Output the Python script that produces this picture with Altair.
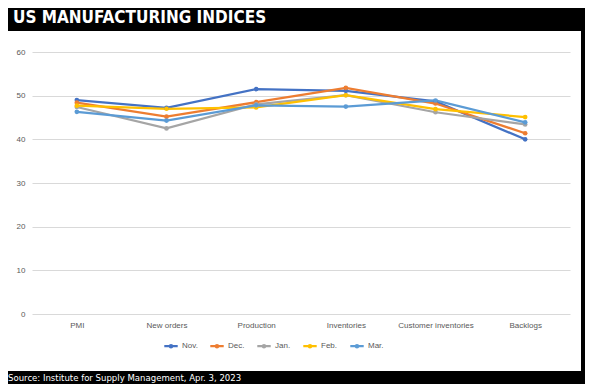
import altair as alt
import pandas as pd

categories = ["PMI", "New orders", "Production", "Inventories", "Customer inventories", "Backlogs"]
months = ["Nov.", "Dec.", "Jan.", "Feb.", "Mar."]
nov = [49.0, 47.2, 51.5, 51.1, 48.7, 40.0]
dec = [48.4, 45.2, 48.5, 51.8, 48.2, 41.4]
jan = [47.4, 42.5, 48.0, 50.1, 46.2, 43.4]
feb = [47.7, 47.0, 47.3, 50.1, 46.9, 45.1]
mar = [46.3, 44.3, 47.8, 47.5, 48.9, 43.9]
colors = ["#4472C4", "#ED7D31", "#A5A5A5", "#FFC000", "#5B9BD5"]
y_ticks = [0, 10, 20, 30, 40, 50, 60]

title_text = "US MANUFACTURING INDICES"
source_text = "Source: Institute for Supply Management, Apr. 3, 2023"

rows = []
for m, vals in zip(months, [nov, dec, jan, feb, mar]):
    for c, v in zip(categories, vals):
        rows.append({"category": c, "month": m, "value": v})
df = pd.DataFrame(rows)

W, H = 538, 262

one = pd.DataFrame({"a": [0]})
top_band = alt.Chart(one).mark_rect(color="black", clip=False).encode(
    x=alt.value(-40), x2=alt.value(570), y=alt.value(-60), y2=alt.value(-21)
)
bottom_band = alt.Chart(one).mark_rect(color="black", clip=False).encode(
    x=alt.value(-40), x2=alt.value(570), y=alt.value(319), y2=alt.value(360)
)
right_band = alt.Chart(one).mark_rect(color="black", clip=False).encode(
    x=alt.value(549), x2=alt.value(570), y=alt.value(-60), y2=alt.value(360)
)

legend_path = "M-1,0L1,0M-0.17,0a0.17,0.17 0 1,0 0.34,0a0.17,0.17 0 1,0 -0.34,0"

lines = alt.Chart(df).mark_line(
    strokeWidth=2.25,
    point=alt.OverlayMarkDef(filled=True, size=22),
).encode(
    x=alt.X("category:N", sort=categories, scale=alt.Scale(type="point", padding=0.5),
            axis=alt.Axis(title=None, labelAngle=0, domain=False, ticks=False, grid=False,
                          labelFont="Liberation Sans", labelFontSize=8, labelColor="#595959",
                          labelPadding=7)),
    y=alt.Y("value:Q", scale=alt.Scale(domain=[0, 60], nice=False),
            axis=alt.Axis(title=None, values=y_ticks, domain=False, ticks=False,
                          gridColor="#D9D9D9", gridWidth=1,
                          labelFont="Liberation Sans", labelFontSize=8, labelColor="#595959",
                          labelPadding=7)),
    color=alt.Color("month:N", sort=months,
                    scale=alt.Scale(domain=months, range=colors),
                    legend=alt.Legend(title=None, orient="none", direction="horizontal",
                                      legendX=131, legendY=286,
                                      symbolType=legend_path, symbolSize=180,
                                      symbolStrokeWidth=2.25,
                                      labelFont="Liberation Sans", labelFontSize=8,
                                      labelColor="#595959", labelOffset=3,
                                      columnPadding=7)),
    order=alt.Order("month_order:Q"),
).transform_calculate(
    month_order="indexof(['Nov.','Dec.','Jan.','Feb.','Mar.'], datum.month)"
)

title = alt.Chart(pd.DataFrame({"t": [title_text]})).mark_text(
    color="white", font="DejaVu Sans Condensed", fontWeight="bold", fontSize=17,
    align="left", baseline="alphabetic", clip=False
).encode(text="t:N", x=alt.value(-19), y=alt.value(-29))

source = alt.Chart(pd.DataFrame({"t": [source_text]})).mark_text(
    color="white", font="DejaVu Sans Condensed", fontSize=9.5,
    align="left", baseline="middle", clip=False
).encode(text="t:N", x=alt.value(-24), y=alt.value(326))

chart = alt.layer(top_band, bottom_band, right_band, lines, title, source).properties(
    width=W, height=H,
    padding={"left": 24, "top": 44, "right": 15, "bottom": 70},
    autosize=alt.AutoSizeParams(type="none"),
    background="white",
).configure_view(stroke=None)

chart.save("out.html", embed_options={"renderer": "svg", "actions": False})
